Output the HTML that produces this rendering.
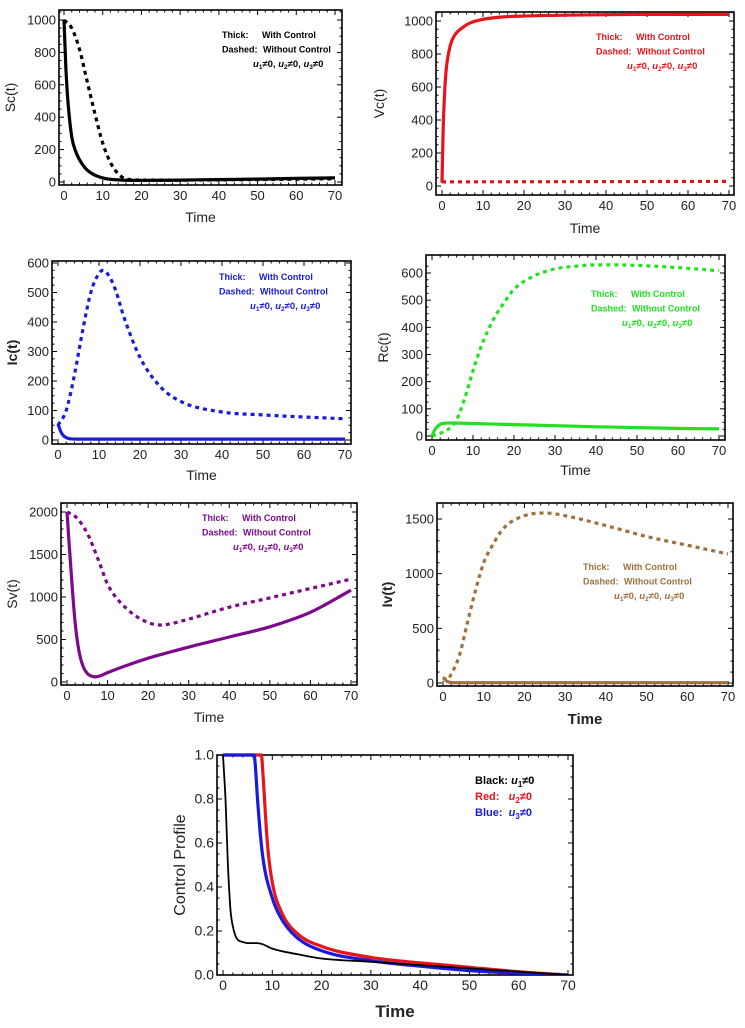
<!DOCTYPE html>
<html><head><meta charset="utf-8"><style>
html,body{margin:0;padding:0;background:#fff;}
svg{display:block;font-family:"Liberation Sans",sans-serif;}
</style></head><body>
<svg id="s" width="745" height="1028" viewBox="0 0 745 1028" xmlns="http://www.w3.org/2000/svg"></svg>
<script>
// ---- data ----
const scWithT=[0,0.5,1,2,3,5,7,10,15,20,30,40,50,60,70];
const scWithV=[1000,700,500,280,190,100,55,25,12,10,12,15,18,22,25];
const scNoT=[0,2,4,6,8,10,12,14,16,20,30,50,70];
const scNoV=[1000,950,820,620,420,240,120,50,20,12,12,15,20];
const vcWithT=[0,0.3,0.6,1,2,3,5,7,10,15,20,30,50,70];
const vcWithV=[20,350,550,700,850,910,960,990,1010,1025,1030,1035,1040,1040];
const vcNoT=[0,70];
const vcNoV=[25,28];
const icWithT=[0,0.5,1,2,3,5,10,70];
const icWithV=[55,35,20,8,4,3,3,3];
const icNoT=[0,2,4,6,8,10,11,12,14,16,20,25,30,40,50,60,70];
const icNoV=[50,100,220,370,500,565,575,565,510,420,280,180,130,95,85,78,72];
const rcWithT=[0,0.5,1,2,3,5,10,20,30,40,50,60,70];
const rcWithV=[0,18,30,43,47,48,46,42,38,34,31,28,26];
const rcNoT=[0,2,4,6,8,10,12,15,18,20,25,30,35,40,45,50,60,70];
const rcNoV=[0,10,25,60,140,240,330,430,500,540,590,615,625,630,630,628,620,608];
const svWithT=[0,0.5,1,2,3,4,5,6,7,8,10,15,20,30,40,50,60,70];
const svWithV=[2000,1650,1300,700,350,180,100,70,60,70,110,200,280,410,530,650,820,1080];
const svNoT=[0,2,5,8,10,15,20,23,25,30,40,50,60,70];
const svNoV=[2000,1950,1750,1400,1150,850,700,670,680,740,880,990,1100,1210];
const ivWithT=[0,1,2,3,70];
const ivWithV=[50,15,5,3,3];
const ivNoT=[0,1,2,4,6,8,10,12,15,20,25,30,40,50,60,70];
const ivNoV=[50,30,80,250,550,850,1100,1250,1420,1530,1555,1530,1440,1340,1260,1180];
const u1T=[0,0.5,1,1.5,2,2.5,3,4,5,6,7,8,10,15,20,30,40,50,60,70];
const u1V=[1,0.8,0.5,0.3,0.22,0.18,0.16,0.15,0.145,0.145,0.145,0.14,0.12,0.095,0.075,0.06,0.045,0.03,0.015,0];
const u2T=[0,7.8,8,9,10,12,15,20,30,40,50,60,70];
const u2V=[1,1,0.95,0.6,0.42,0.28,0.19,0.13,0.08,0.055,0.035,0.015,0];
const u3T=[0,6.3,6.5,7,8,10,12,15,20,30,40,50,60,70];
const u3V=[1,1,0.97,0.8,0.55,0.35,0.25,0.17,0.11,0.065,0.04,0.02,0.008,0];
const xTicks=[0,10,20,30,40,50,60,70];

const NS="http://www.w3.org/2000/svg";
const svg=document.getElementById('s');
function mk(tag,attrs,parent){const e=document.createElementNS(NS,tag);for(const k in attrs)e.setAttribute(k,attrs[k]);(parent||svg).appendChild(e);return e;}

// monotone cubic path through pixel points
function smoothPath(xs,ys){
  const n=xs.length;if(n<3)return xs.map((x,i)=>(i?'L':'M')+x.toFixed(1)+','+ys[i].toFixed(1)).join(' ');
  const d=[],m=new Array(n);
  for(let i=0;i<n-1;i++)d.push((ys[i+1]-ys[i])/(xs[i+1]-xs[i]));
  m[0]=d[0];m[n-1]=d[n-2];
  for(let i=1;i<n-1;i++){m[i]=(d[i-1]*d[i]<=0)?0:(d[i-1]+d[i])/2;}
  for(let i=0;i<n-1;i++){if(d[i]===0){m[i]=0;m[i+1]=0;continue;}
    const a=m[i]/d[i],b=m[i+1]/d[i],s=a*a+b*b;if(s>9){const t=3/Math.sqrt(s);m[i]=t*a*d[i];m[i+1]=t*b*d[i];}}
  let p='M'+xs[0].toFixed(1)+','+ys[0].toFixed(1);
  for(let i=0;i<n-1;i++){const h=(xs[i+1]-xs[i])/3;
    p+=` C${(xs[i]+h).toFixed(1)},${(ys[i]+m[i]*h).toFixed(1)} ${(xs[i+1]-h).toFixed(1)},${(ys[i+1]-m[i+1]*h).toFixed(1)} ${xs[i+1].toFixed(1)},${ys[i+1].toFixed(1)}`;}
  return p;
}

function panel(p){
  const g=mk('g',{});
  
  
  const sx=v=>p.x0+(v-0)/70*(p.x70-p.x0);
  const sy=v=>p.yb+(v-0)/(p.ytop)*(p.yt-p.yb);
  const fr=mk('rect',{x:p.L,y:p.T,width:p.R-p.L,height:p.B-p.T,fill:'none',stroke:'#000','stroke-width':1.6},g);
  
  
  for(let v=0;v<=70;v+=2){const X=sx(v);const major=v%10===0;const len=major?5:2.5;
    mk('line',{x1:X,y1:p.B,x2:X,y2:p.B-len,stroke:'#000','stroke-width':1},g);
    mk('line',{x1:X,y1:p.T,x2:X,y2:p.T+len,stroke:'#000','stroke-width':1},g);}
  xTicks.forEach(v=>{const t=mk('text',{x:sx(v),y:p.B+15,'font-size':p.tf||13,'text-anchor':'middle',fill:'#222'},g);t.textContent=v;
    
    });
  for(let v=0;v<=p.ytop*1.06;v+=p.yminor){const Y=sy(v);if(Y<p.T)break;const major=Math.abs(Math.round(v/p.ystep)*p.ystep-v)<1e-9;const len=major?5:2.5;
    mk('line',{x1:p.L,y1:Y,x2:p.L+len,y2:Y,stroke:'#000','stroke-width':1},g);
    mk('line',{x1:p.R,y1:Y,x2:p.R-len,y2:Y,stroke:'#000','stroke-width':1},g);}
  p.yTicks.forEach(v=>{const t=mk('text',{x:p.L-3,y:sy(v)+4.5,'font-size':p.tf||13,'text-anchor':'end',fill:'#222'},g);t.textContent=p.fmt?p.fmt(v):v;
    
    });
  const xl=mk('text',{x:(p.L+p.R)/2,y:p.xly,'font-size':p.xlf||14,'text-anchor':'middle','font-weight':p.xlb?'bold':'normal',fill:'#222'},g);xl.textContent='Time';
  
  
  const yl=mk('text',{x:0,y:0,transform:`translate(${p.ylx},${(p.T+p.B)/2}) rotate(-90)`,'font-size':p.ylf||14,'text-anchor':'middle','font-weight':p.ylb?'bold':'normal',fill:'#222'},g);yl.textContent=p.ylabel;
  
  
  const cid='c'+p.name;const cp=mk('clipPath',{id:cid},g);mk('rect',{x:p.L,y:p.T-2,width:p.R-p.L,height:p.B-p.T+2},cp);
  p.series.forEach(s=>{const d=smoothPath(s.t.map(sx),s.v.map(sy));
    const path=mk('path',{d:d,fill:'none',stroke:s.c,'stroke-width':s.w,'stroke-linejoin':'round','clip-path':`url(#${cid})`},g);
    if(s.dash)path.setAttribute('stroke-dasharray',s.dash);
    
    });
  if(p.leg){const l=p.leg;const lg=mk('g',{fill:p.lc,'font-size':9,'font-weight':'bold'},g);
    
    
    const a=mk('text',{x:l.x,y:l.y},lg);a.textContent='Thick:';
    const b=mk('text',{x:l.x+40,y:l.y},lg);b.textContent='With Control';
    const c=mk('text',{x:l.x,y:l.y+14.5},lg);c.textContent='Dashed:';
    const c2=mk('text',{x:l.x+41,y:l.y+14.5},lg);c2.textContent='Without Control';
    const d=mk('text',{x:l.x+31,y:l.y+29,'font-size':9.5},lg);
    d.innerHTML='<tspan font-style="italic">u</tspan><tspan font-size="6.5" dy="2">1</tspan><tspan dy="-2">≠0, </tspan><tspan font-style="italic">u</tspan><tspan font-size="6.5" dy="2">2</tspan><tspan dy="-2">≠0, </tspan><tspan font-style="italic">u</tspan><tspan font-size="6.5" dy="2">3</tspan><tspan dy="-2">≠0</tspan>';}
}
const W=3.2,D='4,4';
panel({name:'sc-chart',L:59,R:342,T:10,B:185,x0:64,x70:335,yb:182,yt:20,ytop:1000,ystep:200,yminor:50,yTicks:[0,200,400,600,800,1000],ylabel:'Sc(t)',ylx:15,xly:222,lc:'#000',leg:{x:222,y:38},
 series:[{t:scWithT,v:scWithV,c:'#000',w:W,n:'sc-with-control'},{t:scNoT,v:scNoV,c:'#000',w:W,dash:D,n:'sc-without-control'}]});
panel({name:'vc-chart',L:436,R:734,T:12,B:195,x0:442,x70:729,yb:186,yt:21,ytop:1000,ystep:200,yminor:50,yTicks:[0,200,400,600,800,1000],ylabel:'Vc(t)',ylx:384,xly:233,lc:'#e8141b',leg:{x:596,y:40},
 series:[{t:vcWithT,v:vcWithV,c:'#e8141b',w:W,n:'vc-with-control'},{t:vcNoT,v:vcNoV,c:'#e8141b',w:W,dash:D,n:'vc-without-control'}]});
panel({name:'ic-chart',L:52,R:351,T:261,B:444,x0:58,x70:345,yb:440,yt:263,ytop:600,ystep:100,yminor:25,yTicks:[0,100,200,300,400,500,600],ylabel:'Ic(t)',ylb:true,ylx:17,xly:480,lc:'#1a1adb',leg:{x:219,y:280},
 series:[{t:icWithT,v:icWithV,c:'#1a1adb',w:W,n:'ic-with-control'},{t:icNoT,v:icNoV,c:'#1a1adb',w:W,dash:D,n:'ic-without-control'}]});
panel({name:'rc-chart',L:426,R:725,T:255,B:440,x0:432,x70:719,yb:436,yt:273,ytop:600,ystep:100,yminor:25,yTicks:[0,100,200,300,400,500,600],ylabel:'Rc(t)',ylx:388,xly:475,lc:'#22e022',leg:{x:591,y:297},
 series:[{t:rcWithT,v:rcWithV,c:'#22e022',w:W,n:'rc-with-control'},{t:rcNoT,v:rcNoV,c:'#22e022',w:W,dash:D,n:'rc-without-control'}]});
panel({name:'sv-chart',L:61,R:357,T:503,B:685,x0:67,x70:351,yb:682,yt:512,ytop:2000,ystep:500,yminor:100,yTicks:[0,500,1000,1500,2000],ylabel:'Sv(t)',ylx:17,xly:722,lc:'#7d0a8c',leg:{x:202,y:521},
 series:[{t:svWithT,v:svWithV,c:'#7d0a8c',w:W,n:'sv-with-control'},{t:svNoT,v:svNoV,c:'#7d0a8c',w:W,dash:D,n:'sv-without-control'}]});
panel({name:'iv-chart',L:437,R:733,T:503,B:686,x0:443,x70:728,yb:683,yt:519,ytop:1500,ystep:500,yminor:100,yTicks:[0,500,1000,1500],ylabel:'Iv(t)',ylb:true,ylx:392,xly:724,xlb:true,xlf:15,lc:'#a0703c',leg:{x:583,y:570},
 series:[{t:ivWithT,v:ivWithV,c:'#a0703c',w:W,n:'iv-with-control'},{t:ivNoT,v:ivNoV,c:'#a0703c',w:W,dash:D,n:'iv-without-control'}]});
panel({name:'control-chart',L:217,R:573,T:755,B:975,x0:223,x70:568,yb:975,yt:755,ytop:1,ystep:0.2,yminor:0.05,yTicks:[0,0.2,0.4,0.6,0.8,1.0],fmt:v=>v.toFixed(1),tf:14,ylabel:'Control Profile',ylf:16,ylx:185,xly:1017,xlb:true,xlf:17,
 series:[{t:u2T,v:u2V,c:'#e8141b',w:3.2,n:'u2-control'},{t:u3T,v:u3V,c:'#1a1adb',w:3.2,n:'u3-control'},{t:u1T,v:u1V,c:'#000',w:1.8,n:'u1-control'}]});
const cl=[['Black: ','1','#000'],['Red:   ','2','#e8141b'],['Blue:  ','3','#1a1adb']];
cl.forEach((c,i)=>{const t=mk('text',{x:475,y:784+i*16,'font-size':11,'font-weight':'bold',fill:c[2]});
  t.setAttribute('xml:space','preserve');
  t.style.whiteSpace='pre';
  t.innerHTML=c[0]+'<tspan font-style="italic">u</tspan><tspan font-size="8" dy="3">'+c[1]+'</tspan><tspan dy="-3">≠0</tspan>';
  
  });
</script>
</body></html>
